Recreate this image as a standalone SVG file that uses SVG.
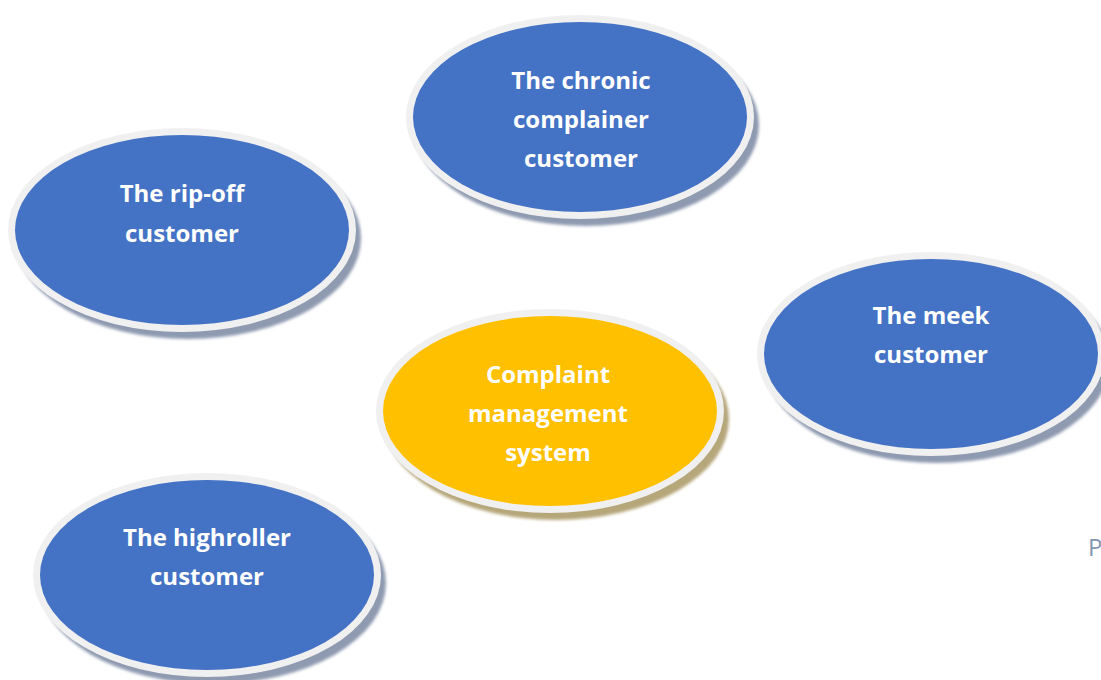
<svg xmlns="http://www.w3.org/2000/svg" width="1101" height="680" viewBox="0 0 1101 680">
<defs>
<filter id="blur" x="-10%" y="-10%" width="120%" height="120%"><feGaussianBlur stdDeviation="1.5"/></filter>
</defs>
<style>
.rim{fill:#f0f0f0}
.sb{fill:#8e9ab0;filter:url(#blur)}
.sy{fill:#b6a77a;filter:url(#blur)}
.blue{fill:#4472c4}
.yellow{fill:#ffc000}
.t{font-family:"Open Sans","Liberation Sans",sans-serif;font-weight:bold;font-size:24px;fill:#ffffff;text-anchor:middle}
</style>
<rect width="1101" height="680" fill="#ffffff"/>
<g id="chronic">
<ellipse class="sb" cx="586" cy="125" rx="173" ry="101"/>
<ellipse class="rim" cx="580" cy="117" rx="174" ry="102"/>
<ellipse class="blue" cx="580" cy="117" rx="167" ry="95"/>
<text class="t" x="581" y="89">The chronic</text>
<text class="t" x="581" y="128">complainer</text>
<text class="t" x="581" y="167">customer</text>
</g>
<g id="ripoff">
<ellipse class="sb" cx="188" cy="238" rx="173" ry="101"/>
<ellipse class="rim" cx="182" cy="230" rx="174" ry="102"/>
<ellipse class="blue" cx="182" cy="230" rx="167" ry="95"/>
<text class="t" x="182" y="202">The rip-off</text>
<text class="t" x="182" y="242">customer</text>
</g>
<g id="complaint">
<ellipse class="sy" cx="556" cy="419" rx="173" ry="101"/>
<ellipse class="rim" cx="550" cy="411" rx="174" ry="102"/>
<ellipse class="yellow" cx="550" cy="411" rx="167" ry="95"/>
<text class="t" x="548" y="383">Complaint</text>
<text class="t" x="548" y="422">management</text>
<text class="t" x="548" y="461">system</text>
</g>
<g id="meek">
<ellipse class="sb" cx="937" cy="362" rx="173" ry="101"/>
<ellipse class="rim" cx="931" cy="354" rx="174" ry="102"/>
<ellipse class="blue" cx="931" cy="354" rx="167" ry="95"/>
<text class="t" x="931" y="324">The meek</text>
<text class="t" x="931" y="363">customer</text>
</g>
<g id="highroller">
<ellipse class="sb" cx="213" cy="583" rx="173" ry="101"/>
<ellipse class="rim" cx="207" cy="575" rx="174" ry="102"/>
<ellipse class="blue" cx="207" cy="575" rx="167" ry="95"/>
<text class="t" x="207" y="546">The highroller</text>
<text class="t" x="207" y="585">customer</text>
</g>
<g id="connectors"></g>
<text x="1088" y="556" font-family="'Open Sans','Liberation Sans',sans-serif" font-size="24" fill="#8496b0">P</text>
</svg>
